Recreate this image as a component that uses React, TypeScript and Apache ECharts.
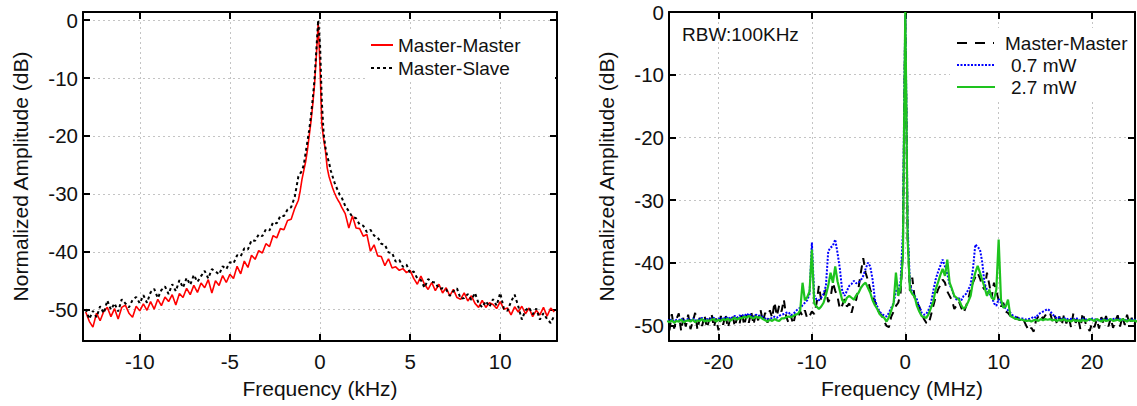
import React, { useEffect, useRef } from "react";
import * as echarts from "echarts";

// ---------- Left panel (kHz) ----------
const KHZ = [
  -13, -12.8, -12.6, -12.4, -12.2, -12, -11.8, -11.6, -11.4, -11.2,
  -11, -10.8, -10.6, -10.4, -10.2, -10, -9.8, -9.6, -9.4, -9.2,
  -9, -8.8, -8.6, -8.4, -8.2, -8, -7.8, -7.6, -7.4, -7.2,
  -7, -6.8, -6.6, -6.4, -6.2, -6, -5.8, -5.6, -5.4, -5.2,
  -5, -4.8, -4.6, -4.4, -4.2, -4, -3.8, -3.6, -3.4, -3.2,
  -3, -2.8, -2.6, -2.4, -2.2, -2, -1.8, -1.6, -1.4, -1.2,
  -1.1, -1, -0.9, -0.8, -0.7, -0.6, -0.5, -0.4, -0.3, -0.2, -0.1,
  0,
  0.1, 0.2, 0.3, 0.4, 0.5, 0.6, 0.7, 0.8, 0.9, 1, 1.1,
  1.2, 1.4, 1.6, 1.8, 2, 2.2, 2.4, 2.6, 2.8, 3,
  3.2, 3.4, 3.6, 3.8, 4, 4.2, 4.4, 4.6, 4.8, 5,
  5.2, 5.4, 5.6, 5.8, 6, 6.2, 6.4, 6.6, 6.8, 7,
  7.2, 7.4, 7.6, 7.8, 8, 8.2, 8.4, 8.6, 8.8, 9,
  9.2, 9.4, 9.6, 9.8, 10, 10.2, 10.4, 10.6, 10.8, 11,
  11.2, 11.4, 11.6, 11.8, 12, 12.2, 12.4, 12.6, 12.8, 13,
];

const MASTER_MASTER_KHZ = [
  -50.4, -52.0, -53.0, -50.6, -51.9, -50.3, -49.6, -51.2, -49.8, -51.6,
  -49.6, -49.2, -50.6, -51.3, -49.4, -50.2, -49.0, -50.1, -48.6, -49.9,
  -48.2, -49.3, -47.8, -48.6, -47.4, -49.2, -47.2, -47.9, -46.3, -47.4,
  -45.8, -47.0, -45.4, -46.2, -44.8, -47.1, -45.0, -45.8, -44.1, -45.3,
  -43.9, -44.6, -42.5, -43.8, -41.6, -42.7, -40.6, -41.3, -39.8, -40.2,
  -38.6, -39.1, -37.2, -37.6, -36.0, -36.2, -34.6, -34.4, -32.5, -31.1,
  -29.5, -27.5, -26.0, -24.5, -22.5, -20.0, -17.5, -14.5, -11.0, -6.0, -0.5,
  -8.0,
  -18.0, -20.5, -22.5, -25.5, -27.0, -28.0, -29.0, -29.8, -30.5, -31.1, -31.6,
  -32.3, -33.4, -35.9, -33.8, -35.9, -36.0, -37.3, -37.0, -39.9, -38.8,
  -40.7, -40.8, -42.4, -41.2, -42.8, -42.6, -43.2, -42.9, -43.6, -43.2,
  -44.6, -45.6, -44.2, -45.6, -46.5, -45.3, -46.7, -45.6, -47.1, -46.2,
  -47.6, -46.5, -47.9, -48.2, -47.1, -48.5, -47.6, -48.9, -49.6, -48.4,
  -49.6, -48.8, -49.1, -49.8, -48.6, -49.9, -49.7, -50.9, -49.5, -50.4,
  -49.4, -50.7, -49.7, -51.2, -50.1, -50.9, -49.6, -51.1, -49.7, -50.4,
];

const MASTER_SLAVE_KHZ = [
  -49.9, -51.6, -50.2, -51.3, -49.4, -50.6, -48.4, -50.0, -48.9, -50.3,
  -48.2, -48.9, -49.6, -48.3, -47.8, -48.9, -47.5, -48.8, -47.0, -46.4,
  -48.0, -46.6, -46.0, -47.3, -45.6, -46.8, -44.9, -46.2, -44.5, -45.7,
  -44.0, -45.2, -44.2, -43.3, -44.6, -43.0, -43.4, -43.9, -42.5, -43.0,
  -41.8, -42.0, -40.6, -40.8, -39.4, -39.6, -38.0, -38.1, -37.0, -37.3,
  -36.1, -36.3, -34.9, -35.1, -33.8, -33.8, -32.7, -32.3, -30.5, -27.0,
  -26.5, -26.0, -25.0, -23.0, -21.0, -19.0, -16.5, -13.5, -10.0, -5.0, 0,
  -4.0,
  -14.0, -19.5, -22.0, -23.5, -24.6, -26.0, -27.0, -28.0, -28.8, -29.5, -30.2,
  -30.6, -32.1, -33.0, -34.0, -34.2, -35.3, -35.5, -36.6, -36.2, -37.2,
  -37.5, -38.6, -38.8, -40.1, -40.2, -41.7, -41.4, -42.6, -42.2, -43.7,
  -43.4, -44.6, -44.9, -46.2, -44.7, -45.2, -45.3, -46.4, -46.3, -46.5,
  -47.6, -46.8, -46.3, -48.1, -48.0, -47.3, -48.3, -47.1, -48.9, -49.6,
  -48.5, -49.5, -48.2, -49.3, -47.1, -49.8, -50.2, -48.6, -47.4, -49.4,
  -51.7, -50.1, -49.6, -50.8, -49.8, -51.7, -50.6, -51.6, -52.3, -51.0,
];

// ---------- Right panel (MHz) ----------
const MHZ = [
  -25.5, -25.25, -25, -24.75, -24.5, -24.25, -24, -23.75, -23.5, -23.25,
  -23, -22.75, -22.5, -22.25, -22, -21.75, -21.5, -21.25, -21, -20.75,
  -20.5, -20.25, -20, -19.75, -19.5, -19.25, -19, -18.75, -18.5, -18.25,
  -18, -17.75, -17.5, -17.25, -17, -16.75, -16.5, -16.25, -16, -15.75,
  -15.5, -15.25, -15, -14.75, -14.5, -14.25, -14, -13.75, -13.5, -13.25,
  -13, -12.75, -12.5,
  -12.25, -12, -11.75, -11.5, -11.25, -11, -10.75, -10.5, -10.25, -10,
  -9.75, -9.5, -9.25, -9, -8.75, -8.5, -8.25, -8, -7.75, -7.5,
  -7.25, -7, -6.75, -6.5, -6.25, -6, -5.75, -5.5, -5.25, -5,
  -4.75, -4.5, -4.25, -4, -3.75, -3.5, -3.25, -3, -2.75, -2.5,
  -2.25, -2, -1.75, -1.5, -1.25, -1, -0.75, -0.5, -0.25,
  -0.125, 0, 0.125,
  0.25, 0.5, 0.75, 1, 1.25, 1.5, 1.75, 2, 2.25, 2.5,
  2.75, 3, 3.25, 3.5, 3.75, 4, 4.25, 4.5, 4.75, 5,
  5.25, 5.5, 5.75, 6, 6.25, 6.5, 6.75, 7, 7.25, 7.5,
  7.75, 8, 8.25, 8.5, 8.75, 9, 9.25, 9.5, 9.75, 10,
  10.25, 10.5, 10.75, 11, 11.25, 11.5, 11.75, 12, 12.25,
  12.5, 12.75, 13, 13.25, 13.5, 13.75, 14, 14.25, 14.5, 14.75,
  15, 15.25, 15.5, 15.75, 16, 16.25, 16.5, 16.75, 17, 17.25,
  17.5, 17.75, 18, 18.25, 18.5, 18.75, 19, 19.25, 19.5, 19.75,
  20, 20.25, 20.5, 20.75, 21, 21.25, 21.5, 21.75, 22, 22.25,
  22.5, 22.75, 23, 23.25, 23.5, 23.75, 24, 24.25, 24.5, 24.75,
  25,
];

const MASTER_MASTER_MHZ = [
  -48.6, -50.8, -48.2, -50.5, -49.0, -48.1, -50.9, -48.7, -50.2, -48.3,
  -50.6, -49.4, -48.0, -50.7, -48.8, -50.1, -48.4, -50.4, -49.2, -48.1,
  -50.3, -48.9, -50.8, -48.5, -49.9, -48.2, -50.4, -49.0, -48.3, -50.2,
  -48.7, -49.8, -47.9, -50.0, -48.4, -49.6, -47.8, -49.9, -48.1, -49.2,
  -47.5, -49.4, -48.0, -49.6, -47.6, -48.8, -46.3, -48.5, -46.8, -47.8,
  -45.9, -48.6, -49.6,
  -48.5, -49.8, -48.2, -48.8, -47.8, -48.5, -47.6, -48.9, -48.5, -47.8,
  -48.2, -46.5, -43.7, -46.0, -45.2, -44.3, -46.3, -45.6, -43.2, -44.5,
  -45.5, -47.4, -46.8, -45.8, -47.0, -46.5, -48.0, -46.5, -45.9, -44.0,
  -41.5, -39.3, -41.6, -42.8, -44.3, -45.3, -46.2, -47.4, -48.0, -48.5,
  -49.4, -50.1, -50.3, -48.6, -47.8, -46.9, -46.4, -44.8, -38.0,
  -18.0, -1.0, -17.0,
  -36.0, -44.5, -42.4, -45.6, -46.4, -47.0, -48.0, -49.0, -49.6, -49.8,
  -48.4, -46.9, -45.5, -44.3, -43.6, -42.7, -43.2, -44.6, -45.3, -46.0,
  -47.4, -46.8, -46.2, -47.2, -48.0, -47.0, -45.8, -44.3, -43.2, -42.3,
  -41.6, -42.5, -43.8, -44.3, -41.6, -43.5, -45.5, -43.2, -44.5, -46.0,
  -47.0, -46.4, -47.8, -48.0, -48.5, -48.3, -49.0, -48.7, -49.2,
  -48.8, -49.4, -50.2, -50.9, -50.4, -51.0, -49.2, -48.6, -48.2, -49.0,
  -48.4, -47.9, -48.0, -49.3, -48.4, -49.8, -48.6, -50.0, -48.3, -49.7,
  -48.6, -50.3, -48.1, -49.6, -48.7, -50.6, -48.0, -49.4, -50.4, -50.9,
  -49.6, -50.3, -49.1, -50.5, -48.7, -49.8, -48.5, -50.2, -48.9, -50.4,
  -49.3, -48.4, -50.2, -48.6, -49.9, -48.3, -49.7, -48.8, -50.1, -48.9,
  -49.5,
];

const P07_MHZ = [
  -49.1, -49.3, -49.0, -49.4, -49.1, -49.2, -48.9, -49.3, -49.1, -49.0,
  -49.2, -48.9, -49.3, -49.0, -49.1, -48.8, -49.2, -49.0, -49.1, -48.9,
  -48.8, -49.2, -48.9, -49.1, -48.7, -49.0, -48.6, -49.0, -48.7, -48.5,
  -48.8, -48.4, -48.6, -48.2, -48.5, -48.1, -48.4, -48.6, -48.3, -48.5,
  -48.4, -48.7, -48.9, -49.1, -48.8, -48.9, -48.6, -48.8, -48.5, -48.3,
  -48.2, -48.0, -47.9,
  -48.4, -48.2, -47.8, -47.4, -47.2, -46.8, -46.4, -46.0, -45.0, -36.8,
  -45.2, -45.9, -46.0, -45.6, -45.0, -43.7, -38.2, -37.6, -37.3, -36.3,
  -38.5, -41.0, -44.5, -45.3, -44.5, -43.7, -43.4, -42.9, -43.3, -43.2,
  -42.8, -42.1, -41.0, -40.0, -40.6, -42.7, -45.9, -47.0, -47.8, -48.2,
  -48.4, -48.6, -48.0, -47.2, -46.5, -44.5, -44.3, -43.0, -35.0,
  -16.0, -0.5, -15.0,
  -34.0, -43.5, -44.8, -45.3, -45.9, -47.0, -48.0, -48.3, -48.2, -47.5,
  -46.5, -44.5, -42.7, -41.5, -40.5, -39.5, -40.6, -41.8, -43.5, -44.3,
  -45.4, -45.9, -45.7, -46.0, -45.3, -45.0, -44.3, -43.5, -41.0, -37.1,
  -37.5, -37.9, -40.0, -43.5, -44.3, -45.0, -45.3, -46.5, -46.9, -45.8,
  -46.4, -46.9, -47.3, -47.6, -48.0, -48.4, -48.6, -48.8, -48.9,
  -48.9, -49.0, -49.1, -49.0, -48.9, -48.6, -48.8, -48.2, -48.0, -47.8,
  -47.6, -47.4, -47.7, -48.2, -48.6, -48.9, -48.7, -49.0, -48.8, -49.1,
  -48.9, -49.0, -49.1, -48.8, -49.0, -49.2, -48.9, -49.1, -49.0, -49.2,
  -48.9, -49.1, -49.0, -49.3, -49.1, -49.0, -49.2, -48.9, -49.1, -49.0,
  -48.9, -49.2, -49.0, -49.1, -49.3, -49.0, -49.2, -49.1, -49.0, -49.2,
  -49.0,
];

const P27_MHZ = [
  -49.3, -49.5, -49.2, -49.6, -49.3, -49.4, -49.1, -49.5, -49.3, -49.2,
  -49.4, -49.1, -49.5, -49.2, -49.3, -49.0, -49.4, -49.2, -49.3, -49.1,
  -49.0, -49.4, -49.1, -49.3, -49.0, -49.2, -48.9, -49.3, -49.0, -48.8,
  -49.1, -48.8, -48.9, -48.6, -48.8, -48.5, -48.7, -48.9, -48.6, -48.8,
  -48.7, -49.0, -49.2, -49.4, -49.1, -49.3, -49.0, -49.2, -49.3, -48.9,
  -48.9, -48.7, -48.6,
  -48.7, -48.5, -48.3, -48.2, -47.6, -43.2, -46.0, -45.5, -44.6, -37.9,
  -46.5, -47.0, -47.4, -47.0, -46.4, -45.2, -43.7, -41.6, -43.2, -40.6,
  -43.0, -44.5, -46.0, -46.4, -45.6, -45.3, -45.6, -45.9, -45.2, -44.8,
  -44.0, -43.5, -43.2, -44.0, -44.8, -46.0, -46.8, -47.4, -48.2, -48.6,
  -48.8, -49.4, -48.7, -47.6, -46.5, -41.6, -45.3, -44.0, -39.0,
  -18.0, 0, -16.0,
  -36.3, -44.3, -45.0, -45.4, -46.9, -47.8, -48.5, -48.7, -48.8, -48.2,
  -47.2, -46.2, -44.3, -43.2, -42.0, -41.0, -42.1, -39.5, -43.2, -44.2,
  -45.3, -45.6, -45.9, -46.8, -47.4, -47.0, -46.2, -45.3, -43.0, -41.6,
  -40.5, -41.6, -42.8, -44.0, -45.3, -44.3, -45.6, -45.9, -44.3, -36.3,
  -45.9, -47.2, -47.0, -45.9, -48.5, -48.7, -48.9, -49.0, -49.1,
  -49.1, -49.2, -49.3, -49.2, -49.4, -49.2, -49.1, -49.3, -49.0, -49.2,
  -49.0, -49.1, -49.0, -49.2, -49.1, -49.3, -49.1, -49.2, -49.0, -49.3,
  -49.2, -49.4, -49.1, -49.3, -49.2, -49.4, -49.1, -49.3, -49.2, -49.0,
  -49.1, -49.3, -49.0, -49.2, -49.4, -49.1, -49.3, -49.2, -49.0, -49.3,
  -49.2, -49.1, -49.3, -49.0, -49.2, -49.4, -49.1, -49.3, -49.2, -49.4,
  -49.2,
];

const KHZ_TICKS = [-10, -5, 0, 5, 10];
const MHZ_TICKS = [-20, -10, 0, 10, 20];
const DB_TICKS = [-50, -40, -30, -20, -10, 0];

const FONT = "'Liberation Sans', Arial, Helvetica, sans-serif";
const TXT = "#111";

const zip = (xs: number[], ys: number[]) => xs.map((x, i) => [x, ys[i]]);

function mainAxis(gridIndex: number, pos: string, min: number, max: number, ticks: number[], name: string, nameGap: number, labelMargin: number) {
  return {
    type: "value",
    gridIndex,
    position: pos,
    min,
    max,
    name,
    nameLocation: "middle",
    nameGap,
    nameTextStyle: { fontSize: 21, fontFamily: FONT, color: TXT },
    axisLine: { show: true, onZero: false, lineStyle: { color: "#000", width: 2 } },
    axisTick: { show: true, inside: true, length: 7, customValues: ticks, lineStyle: { color: "#000", width: 2 } },
    axisLabel: { show: true, customValues: ticks, fontSize: 20.5, fontFamily: FONT, color: TXT, margin: labelMargin },
    splitLine: { show: true, lineStyle: { color: "#c4c4c4", width: 1, type: [2, 3] } },
  };
}

function mirrorAxis(gridIndex: number, pos: string, min: number, max: number, ticks: number[]) {
  return {
    type: "value",
    gridIndex,
    position: pos,
    min,
    max,
    axisLine: { show: true, onZero: false, lineStyle: { color: "#000", width: 2 } },
    axisTick: { show: true, inside: true, length: 7, customValues: ticks, lineStyle: { color: "#000", width: 2 } },
    axisLabel: { show: false },
    splitLine: { show: false },
  };
}

export default function App() {
  const ref = useRef<HTMLDivElement>(null);

  useEffect(() => {
    if (!ref.current) return;
    const chart = echarts.init(ref.current, null, { renderer: "svg" });

    const legendText = (text: string, x: number, y: number) => ({
      type: "text",
      x,
      y,
      z: 20,
      style: { text, fontSize: 19, fontFamily: FONT, fill: TXT, verticalAlign: "middle", align: "left" },
    });
    const legendLine = (x1: number, x2: number, y: number, stroke: string, width: number, dash: any) => ({
      type: "line",
      z: 20,
      shape: { x1, y1: y, x2, y2: y },
      style: { stroke, lineWidth: width, lineDash: dash },
    });

    chart.setOption({
      animation: false,
      backgroundColor: "#fff",
      grid: [
        { left: 83, top: 12, width: 474, height: 329, containLabel: false, outerBoundsMode: "none" },
        { left: 669, top: 12, width: 466, height: 329, containLabel: false, outerBoundsMode: "none" },
      ],
      xAxis: [
        mainAxis(0, "bottom", -13.15, 13.15, KHZ_TICKS, "Frequency (kHz)", 37, 10),
        mirrorAxis(0, "top", -13.15, 13.15, KHZ_TICKS),
        mainAxis(1, "bottom", -25.3, 24.6, MHZ_TICKS, "Frequency (MHz)", 37, 10),
        mirrorAxis(1, "top", -25.3, 24.6, MHZ_TICKS),
      ],
      yAxis: [
        mainAxis(0, "left", -55.4, 1.4, DB_TICKS, "Normalized Amplitude (dB)", 52, 5),
        mirrorAxis(0, "right", -55.4, 1.4, DB_TICKS),
        mainAxis(1, "left", -52.5, 0, DB_TICKS, "Normalized Amplitude (dB)", 52, 5),
        mirrorAxis(1, "right", -52.5, 0, DB_TICKS),
      ],
      graphic: [
        { type: "rect", z: 15, shape: { x: 366, y: 30, width: 189, height: 52 }, style: { fill: "#fff" } },
        legendLine(371, 393, 45, "#ff0000", 2, "solid"),
        legendText("Master-Master", 398, 45),
        legendLine(371, 393, 68, "#000", 2, [3, 3]),
        legendText("Master-Slave", 398, 68),

        { type: "rect", z: 15, shape: { x: 950, y: 28, width: 184, height: 72 }, style: { fill: "#fff" } },
        legendLine(957, 994, 43, "#000", 2, [10, 8]),
        legendText("Master-Master", 1005, 43),
        legendLine(957, 994, 65, "#0000ff", 2, [2, 1.5]),
        legendText("0.7 mW", 1011, 65),
        legendLine(957, 995, 87, "#1ec31e", 2.2, "solid"),
        legendText("2.7 mW", 1011, 87),

        legendText("RBW:100KHz", 682, 34),
      ],
      series: [
        {
          name: "Master-Master",
          type: "line",
          xAxisIndex: 0,
          yAxisIndex: 0,
          data: zip(KHZ, MASTER_MASTER_KHZ),
          symbol: "none",
          color: "#ff0000",
          lineStyle: { color: "#ff0000", width: 1.6 },
          z: 2,
        },
        {
          name: "Master-Slave",
          type: "line",
          xAxisIndex: 0,
          yAxisIndex: 0,
          data: zip(KHZ, MASTER_SLAVE_KHZ),
          symbol: "none",
          color: "#000",
          lineStyle: { color: "#000", width: 2, type: [3, 3] },
          z: 3,
        },
        {
          name: "Master-Master",
          type: "line",
          xAxisIndex: 2,
          yAxisIndex: 2,
          data: zip(MHZ, MASTER_MASTER_MHZ),
          symbol: "none",
          color: "#000",
          lineStyle: { color: "#000", width: 2, type: [8, 6] },
          z: 2,
        },
        {
          name: "0.7 mW",
          type: "line",
          xAxisIndex: 2,
          yAxisIndex: 2,
          data: zip(MHZ, P07_MHZ),
          symbol: "none",
          color: "#0000ff",
          lineStyle: { color: "#0000ff", width: 2, type: [2, 1.5] },
          z: 3,
        },
        {
          name: "2.7 mW",
          type: "line",
          xAxisIndex: 2,
          yAxisIndex: 2,
          data: zip(MHZ, P27_MHZ),
          symbol: "none",
          color: "#1ec31e",
          lineStyle: { color: "#1ec31e", width: 2.2 },
          z: 4,
        },
      ],
    });

    return () => chart.dispose();
  }, []);

  return (
    <div
      ref={ref}
      style={{ position: "absolute", left: 0, top: 0, width: 1137, height: 406, background: "#fff" }}
    />
  );
}
